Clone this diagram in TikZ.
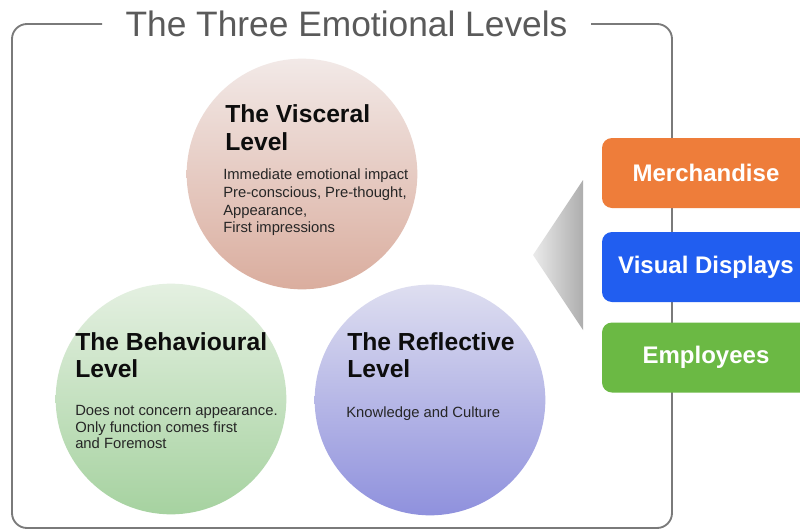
\documentclass[tikz,border=0pt]{standalone}
\usepackage{fontspec}
\setmainfont{Liberation Sans}
\definecolor{framegray}{HTML}{7A7A7A}
\definecolor{titlegray}{HTML}{5A5A5A}
\definecolor{vistop}{HTML}{F2E9E7}
\definecolor{visbot}{HTML}{DAAD9E}
\definecolor{behtop}{HTML}{E4F0E1}
\definecolor{behbot}{HTML}{A6D2A0}
\definecolor{reftop}{HTML}{DEDEF0}
\definecolor{refbot}{HTML}{8F91DD}
\definecolor{boxorange}{HTML}{EE7D3A}
\definecolor{boxblue}{HTML}{215EF0}
\definecolor{boxgreen}{HTML}{6BB944}
\begin{document}
\begin{tikzpicture}[x=0.75pt,y=-0.75pt,
  lvl/.style={circle, inner sep=0pt, minimum size=173pt},
  ttl/.style={anchor=base west, inner sep=0pt, text=black!95,
    font=\bfseries\fontsize{18.5}{22}\selectfont},
  body/.style={anchor=base west, inner sep=0pt, text=black!85,
    font=\fontsize{11.1}{13}\selectfont},
  tag/.style={rounded corners=7.5pt, minimum width=156pt, minimum height=52.5pt,
    inner sep=0pt, text=white, font=\bfseries\fontsize{18}{22}\selectfont}]
\useasboundingbox (0,0) rectangle (800,529);
\fill[white] (0,0) rectangle (800,529);
% frame
\draw[framegray, line width=1.4pt, rounded corners=11.25pt]
  (102,24) -- (12,24) -- (12,528) -- (672,528) -- (672,24) -- (591,24);
\node[anchor=base, inner sep=0pt, text=titlegray, font=\fontsize{26.5}{32}\selectfont] (title) at (346.5,36) {The Three Emotional Levels};
% circles
\node[lvl] (visc) at (302,174) {};
\node[lvl] (behav) at (171,399) {};
\node[lvl] (refl) at (430,400) {};
\shade[top color=vistop, bottom color=visbot] (visc.center) circle[radius=86.5pt];
\shade[top color=behtop, bottom color=behbot] (behav.center) circle[radius=86.5pt];
\shade[top color=reftop, bottom color=refbot] (refl.center) circle[radius=86.5pt];
% visceral text
\node[ttl] (v1) at (225,122) {The Visceral};
\node[ttl] (v2) at (225,150) {Level};
\node[body] (vb1) at (223,179) {Immediate emotional impact};
\node[body] (vb2) at (223,197) {Pre-conscious, Pre-thought,};
\node[body] (vb3) at (223,215) {Appearance,};
\node[body] (vb4) at (223,232) {First impressions};
% behavioural text
\node[ttl] (b1) at (75,350) {The Behavioural};
\node[ttl] (b2) at (75,377) {Level};
\node[body] (bb1) at (75,415) {Does not concern appearance.};
\node[body] (bb2) at (75,432) {Only function comes first};
\node[body] (bb3) at (75,448) {and Foremost};
% reflective text
\node[ttl] (r1) at (347,350) {The Reflective};
\node[ttl] (r2) at (347,377) {Level};
\node[body] (rb1) at (346,417) {Knowledge and Culture};
% pointer triangle
\shade[left color=black!8, right color=black!32] (533,255) -- (583,180) -- (583,330) -- cycle;
% tags
\node[tag, fill=boxorange] (merch) at (706,173) {Merchandise};
\node[tag, fill=boxblue] (vis) at (706,267) {Visual Displays};
\node[tag, fill=boxgreen] (empl) at (706,357.5) {Employees};
\end{tikzpicture}
\end{document}
